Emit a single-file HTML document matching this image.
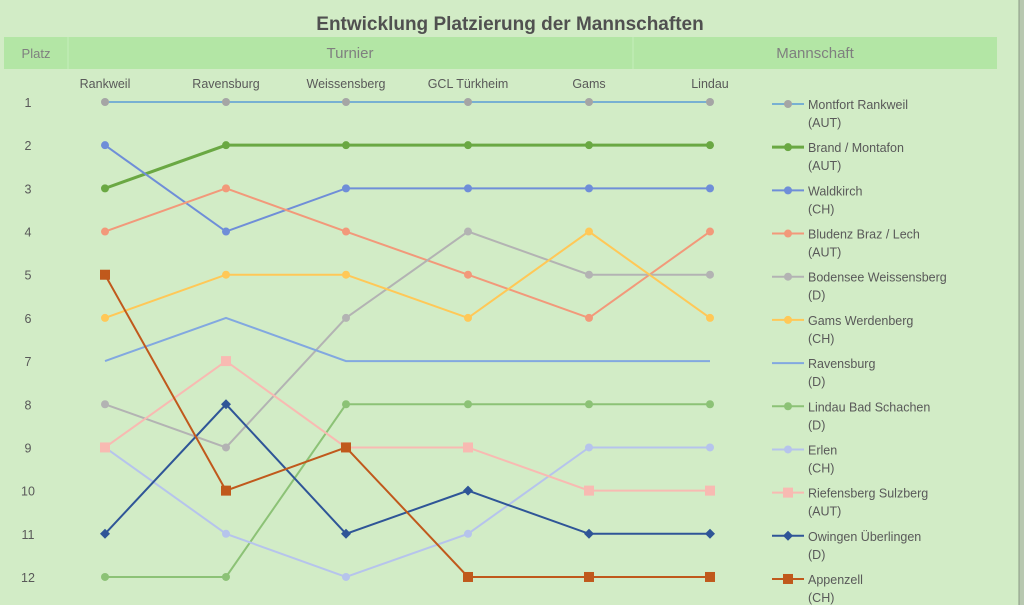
<!DOCTYPE html>
<html><head><meta charset="utf-8"><style>
body{margin:0;background:#fff}
svg{display:block;font-family:"Liberation Sans",sans-serif}
</style></head><body>
<svg width="1024" height="605" viewBox="0 0 1024 605">
<rect x="0" y="0" width="1024" height="605" fill="#d2ecc6"/>
<rect x="1019" y="0" width="5" height="605" fill="#b8c8b0"/>
<line x1="1019" y1="0" x2="1019" y2="605" stroke="#8a9a84" stroke-width="1"/>
<text x="510" y="30" text-anchor="middle" font-size="19" font-weight="bold" fill="#505050">Entwicklung Platzierung der Mannschaften</text>
<rect x="4" y="37" width="993" height="32" fill="#b3e6a5"/>
<line x1="68" y1="37" x2="68" y2="69" stroke="#c6efbb"/>
<line x1="633" y1="37" x2="633" y2="69" stroke="#c6efbb"/>
<g fill="#7f7f7f" font-size="15" text-anchor="middle">
<text x="36" y="58" font-size="13">Platz</text>
<text x="350" y="58">Turnier</text>
<text x="815" y="58">Mannschaft</text>
</g>
<g fill="#595959" font-size="12.5" text-anchor="middle">
<text x="105" y="88">Rankweil</text><text x="226" y="88">Ravensburg</text><text x="346" y="88">Weissensberg</text><text x="468" y="88">GCL Türkheim</text><text x="589" y="88">Gams</text><text x="710" y="88">Lindau</text>
</g>
<g fill="#595959" font-size="12.5" text-anchor="middle" id="yl"></g>
<g id="plot"></g>
<g id="leg" font-size="12.5" fill="#595959"></g>
</svg>
<script>
const X=[105,226,346,468,589,710];const Y=r=>102+(r-1)*43.18;
const NS="http://www.w3.org/2000/svg";
function el(p,t,a,txt){const e=document.createElementNS(NS,t);for(const k in a)e.setAttribute(k,a[k]);if(txt)e.textContent=txt;p.appendChild(e);return e;}
const yl=document.getElementById('yl');
for(let r=1;r<=12;r++)el(yl,'text',{x:28,y:Y(r)+5},String(r));
const S=[
["Montfort Rankweil","(AUT)",[1,1,1,1,1,1],"#5b9bd5","#a5a5a5","c",1.5],
["Brand / Montafon","(AUT)",[3,2,2,2,2,2],"#6aa843","#6aa843","c",3],
["Waldkirch","(CH)",[2,4,3,3,3,3],"#6f8ed8","#6f8ed8","c",2],
["Bludenz Braz / Lech","(AUT)",[4,3,4,5,6,4],"#f2997a","#f2997a","c",2],
["Bodensee Weissensberg","(D)",[8,9,6,4,5,5],"#b3b3b3","#b3b3b3","c",2],
["Gams Werdenberg","(CH)",[6,5,5,6,4,6],"#ffc857","#ffc857","c",2],
["Ravensburg","(D)",[7,6,7,7,7,7],"#82a8e0",null,"n",2],
["Lindau Bad Schachen","(D)",[12,12,8,8,8,8],"#8cc276","#8cc276","c",2],
["Erlen","(CH)",[9,11,12,11,9,9],"#b6c4ec","#b6c4ec","c",2],
["Riefensberg Sulzberg","(AUT)",[9,7,9,9,10,10],"#f8bab2","#f8bab2","s",2],
["Owingen Überlingen","(D)",[11,8,11,10,11,11],"#2f5597","#2f5597","d",2],
["Appenzell","(CH)",[5,10,9,12,12,12],"#c0591c","#c0591c","s",2]];
const P=document.getElementById('plot'),L=document.getElementById('leg');
function mk(g,x,y,t,c){if(t=="c")el(g,'circle',{cx:x,cy:y,r:4,fill:c});
else if(t=="s")el(g,'rect',{x:x-5,y:y-5,width:10,height:10,fill:c});
else if(t=="d")el(g,'polygon',{points:`${x},${y-5} ${x+5},${y} ${x},${y+5} ${x-5},${y}`,fill:c});}
S.forEach((s,i)=>{
 el(P,'polyline',{points:s[2].map((r,j)=>X[j]+","+Y(r)).join(" "),fill:"none",stroke:s[3],"stroke-width":s[6]});
 if(s[4])s[2].forEach((r,j)=>mk(P,X[j],Y(r),s[5],s[4]));
 const ly=104+i*43.18;
 el(L,'line',{x1:772,y1:ly,x2:804,y2:ly,stroke:s[3],"stroke-width":s[6]});
 if(s[4])mk(L,788,ly,s[5],s[4]);
 el(L,'text',{x:808,y:ly+5},s[0]);el(L,'text',{x:808,y:ly+23},s[1]);
});
</script>
</body></html>
